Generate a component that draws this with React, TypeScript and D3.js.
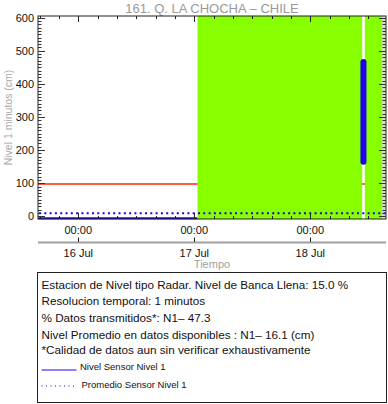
import React from "react";
import * as d3 from "d3";

const TITLE = "161. Q. LA CHOCHA – CHILE";
const Y_LABEL = "Nivel 1 minutos (cm)";
const X_LABEL = "Tiempo";
const DOMAIN_START = "2024-07-15T15:40:00";
const DOMAIN_END = "2024-07-18T15:40:00";
const DAY_TICKS = ["2024-07-16T00:00:00", "2024-07-17T00:00:00", "2024-07-18T00:00:00"];
const DAY_LABELS = ["16 Jul", "17 Jul", "18 Jul"];
const Y_TICKS = [0, 100, 200, 300, 400, 500, 600];

// transmission bands (green)
const bandStarts = ["2024-07-17T00:40:00", "2024-07-18T11:17:00"];
const bandEnds = ["2024-07-18T10:44:00", "2024-07-18T14:50:00"];
const paleStart = "2024-07-18T14:50:00";

// level sensor series (segments)
const seg1Times = ["2024-07-15T15:40:00", "2024-07-17T00:38:00"];
const seg1Values = [-6, -6];
const seg2Times = ["2024-07-18T11:00:00", "2024-07-18T11:00:00"];
const seg2Values = [165, 466];
const meanLevel = 9;
const bankFull = 98;

const infoLines = [
  "Estacion de Nivel tipo Radar. Nivel de Banca Llena: 15.0 %",
  "Resolucion temporal: 1 minutos",
  "% Datos transmitidos*: N1\u2013 47.3",
  "Nivel Promedio en datos disponibles : N1\u2013 16.1 (cm)",
  "*Calidad de datos aun sin verificar exhaustivamente",
];
const legendLabels = ["Nivel Sensor Nivel 1", "Promedio Sensor Nivel 1"];

const W = 388, H = 404;
const L = 38, R = 386, T = 16, B = 219;
const BLUE = "#1f00ee", GREEN = "#88ff00", RED = "#ff2a00";
const FONT = "'Liberation Sans', Arial, Helvetica, sans-serif";

export default function App() {
  const p = (s: string) => new Date(s);
  const x = d3.scaleTime().domain([p(DOMAIN_START), p(DOMAIN_END)]).range([L, R]);
  const y = d3.scaleLinear().domain([-8, 605]).range([B, T]);

  const minorX = d3.timeHour.every(4)!.range(p(DOMAIN_START), p(DOMAIN_END));
  const yMinor = d3.range(0, 601, 10);

  const line = d3.line<[Date, number]>().x(d => x(d[0])).y(d => y(d[1]));
  const seg1 = seg1Times.map((t, i) => [p(t), seg1Values[i]] as [Date, number]);
  const seg2 = seg2Times.map((t, i) => [p(t), seg2Values[i]] as [Date, number]);

  const infoBaselines = [289, 305, 321.5, 339, 353.5];

  return (
    <svg width={W} height={H} style={{ position: "absolute", left: 0, top: 0, background: "#fff" }} fontFamily={FONT}>
      {/* title */}
      <text x={(L + R) / 2} y={12.5} textAnchor="middle" fontSize={13} fill="#9a9a9a">{TITLE}</text>
      <text transform={`translate(11.5,${(T + B) / 2}) rotate(-90)`} textAnchor="middle" fontSize={10.5} fill="#a8a8a8">{Y_LABEL}</text>

      {/* bank full line */}
      <line x1={L} x2={R} y1={y(bankFull)} y2={y(bankFull)} stroke={RED} strokeWidth={1.5} />

      {/* green bands */}
      {bandStarts.map((s, i) => (
        <rect key={i} x={x(p(s))} y={T} width={x(p(bandEnds[i])) - x(p(s))} height={B - T} fill={GREEN} />
      ))}
      <rect x={x(p(paleStart))} y={T} width={R - x(p(paleStart))} height={B - T} fill="#cfe6b4" />

      {/* level series */}
      <path d={line(seg1)!} fill="none" stroke={BLUE} strokeWidth={2} />
      <path d={line(seg2)!} fill="none" stroke={BLUE} strokeWidth={6} strokeLinecap="round" />
      {/* mean dotted */}
      <line x1={L + 1} x2={R} y1={y(meanLevel)} y2={y(meanLevel)} stroke={BLUE} strokeWidth={2} strokeDasharray="2,3.3" />

      {/* frame */}
      <rect x={L} y={T} width={R - L} height={B - T} fill="none" stroke="#222" strokeWidth={1} />

      {/* x ticks top & bottom */}
      {minorX.map((d, i) => {
        const major = d.getHours() === 0;
        const len = major ? 6 : 3;
        const xx = Math.round(x(d)) + 0.5;
        return (
          <g key={i} stroke="#222" strokeWidth={1}>
            <line x1={xx} x2={xx} y1={B} y2={B - len} />
            <line x1={xx} x2={xx} y1={T} y2={T + len} />
          </g>
        );
      })}
      {/* y ticks left & right */}
      {yMinor.map((v, i) => {
        const major = v % 100 === 0;
        const len = major ? 7 : 3.5;
        const yy = Math.round(y(v)) + 0.5;
        return (
          <g key={i} stroke="#333" strokeWidth={1}>
            <line x1={L} x2={L + len} y1={yy} y2={yy} />
            <line x1={R} x2={R - len} y1={yy} y2={yy} />
          </g>
        );
      })}
      {Y_TICKS.map(v => (
        <text key={v} x={34} y={y(v) + 4} textAnchor="end" fontSize={11} fill="#111">{v}</text>
      ))}

      {/* x labels */}
      {DAY_TICKS.map((d, i) => (
        <text key={i} x={x(p(d))} y={233.5} textAnchor="middle" fontSize={11} fill="#111">00:00</text>
      ))}
      <line x1={L} x2={R} y1={242.5} y2={242.5} stroke="#a0a0a0" strokeWidth={2} />
      {DAY_TICKS.map((d, i) => (
        <g key={i}>
          <line x1={Math.round(x(p(d))) + 0.5} x2={Math.round(x(p(d))) + 0.5} y1={242} y2={237.5} stroke="#222" />
          <text x={x(p(d))} y={257} textAnchor="middle" fontSize={11} fill="#111">{DAY_LABELS[i]}</text>
        </g>
      ))}
      <text x={(L + R) / 2} y={268} textAnchor="middle" fontSize={11} fill="#a0a0a0">{X_LABEL}</text>

      {/* info box */}
      <rect x={37.5} y={272.5} width={349} height={130} fill="none" stroke="#222" strokeWidth={1} />
      {infoLines.map((t, i) => (
        <text key={i} x={41.5} y={infoBaselines[i]} fontSize={11.7} fill="#111">{t}</text>
      ))}
      <line x1={41.5} x2={76.5} y1={370} y2={370} stroke={BLUE} strokeWidth={1} />
      <text x={80} y={370} fontSize={9.5} fill="#111">{legendLabels[0]}</text>
      <line x1={41.5} x2={76} y1={386} y2={386} stroke={BLUE} strokeWidth={1} strokeDasharray="1,3.5" />
      <text x={81.5} y={387.5} fontSize={9.5} fill="#111">{legendLabels[1]}</text>
    </svg>
  );
}
